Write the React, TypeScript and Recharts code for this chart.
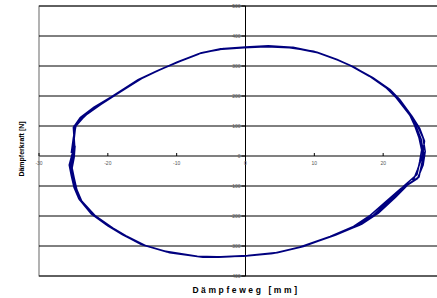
import React from 'react';
import { LineChart, Line, XAxis, YAxis, ReferenceLine, ReferenceArea, ReferenceDot } from 'recharts';

// Dämpferkraft over Dämpferweg, several recorded cycles
const cycle1 = [
  [-25.0, 20], [-24.9, 100], [-23.5, 133], [-21.5, 167], [-19.2, 200], [-15.3, 257], [-12.5, 287],
  [-9.9, 313], [-6.5, 343], [-3.6, 357], [0, 363], [3.3, 367], [6.7, 362], [10.2, 347], [13.1, 323],
  [15.4, 300], [18.3, 263], [20.8, 223], [22.2, 190], [24.1, 133], [24.8, 97], [25.5, 57], [25.9, 5],
  [25.6, -27], [25.2, -70], [23.7, -93], [21.8, -137], [19.3, -190], [16.9, -227], [13.1, -263],
  [8.1, -303], [4.4, -323], [0, -333], [-3.9, -337], [-6.5, -336], [-11.3, -320], [-14.8, -297],
  [-17.7, -263], [-19.6, -237], [-22.1, -197], [-24.0, -147], [-24.7, -110], [-25.1, -70],
  [-25.4, -37], [-25.1, -3], [-24.9, 30],
];
const cycle2 = [
  [-25.3, 10], [-25.0, 60], [-24.6, 105], [-23.0, 140], [-21.0, 172], [-18.8, 205], [-15.0, 260],
  [-12.2, 290], [-9.5, 316], [-6.2, 345], [-3.2, 358], [0.2, 362], [3.6, 365], [7.0, 360], [10.5, 344],
  [13.4, 320], [15.8, 296], [18.6, 258], [21.0, 220], [22.5, 185], [23.8, 140], [24.6, 100], [25.2, 62],
  [25.6, 20], [25.3, -20], [24.9, -62], [23.0, -100], [21.0, -145], [18.6, -197], [16.2, -232],
  [12.6, -266], [7.8, -305], [4.0, -325], [-0.3, -334], [-4.2, -336], [-7.0, -334], [-11.6, -318],
  [-15.2, -294], [-18.0, -260], [-20.0, -233], [-22.4, -193], [-24.2, -143], [-24.9, -105],
  [-25.3, -65], [-25.6, -30], [-25.2, 5],
];
const cycle3 = [
  [-24.8, 25], [-25.0, 95], [-24.0, 128], [-22.0, 163], [-19.5, 197], [-15.6, 254], [-12.8, 284],
  [-10.2, 310], [-6.8, 341], [-3.9, 355], [-0.2, 361], [3.0, 364], [6.4, 361], [9.9, 349], [12.8, 326],
  [15.1, 303], [18.0, 266], [20.5, 226], [21.9, 194], [23.8, 138], [25.0, 100], [25.8, 60], [26.1, 15],
  [25.8, -30], [25.0, -75], [23.3, -100], [21.3, -142], [18.9, -195], [16.6, -230], [12.9, -264],
  [8.4, -302], [4.6, -322], [0.3, -332], [-3.6, -336], [-6.2, -337], [-11.0, -322], [-14.5, -299],
  [-17.4, -266], [-19.3, -240], [-21.8, -200], [-23.8, -150], [-24.5, -113], [-24.9, -73],
  [-25.2, -40], [-24.9, -5], [-24.8, 25],
];
const cycle4 = [
  [-25.1, 15], [-24.7, 98], [-23.3, 135], [-21.3, 169], [-19.0, 202], [-15.1, 258], [-12.3, 289],
  [-9.7, 314], [-6.4, 344], [-3.4, 356], [0.1, 362], [3.5, 366], [6.9, 362], [10.4, 346], [13.3, 322],
  [15.6, 298], [18.5, 261], [21.0, 221], [22.4, 188], [24.2, 132], [25.3, 92], [26.0, 50], [25.7, 0],
  [25.0, -45], [24.3, -85], [22.6, -108], [20.4, -152], [18.0, -200], [15.7, -235], [12.3, -268],
  [7.6, -306], [4.2, -324], [-0.1, -333], [-4.0, -337], [-6.6, -336], [-11.4, -320], [-15.0, -296],
  [-17.9, -262], [-19.8, -235], [-22.2, -195], [-24.1, -146], [-24.8, -108], [-25.2, -68],
  [-25.5, -35], [-25.2, 0], [-25.1, 15],
];

const xTicks = [-30, -20, -10, 0, 10, 20];
const yTicks = [-400, -300, -200, -100, 0, 100, 200, 300, 400, 500];

const data = [...cycle1, ...cycle2, ...cycle3, ...cycle4].map(([x, y]) => ({ x, y }));

const font = '"Liberation Sans", Arial, sans-serif';

export default function App() {
  return (
    <div style={{ position: 'absolute', left: 0, top: 0, width: 460, height: 298, fontFamily: font }}>
      <LineChart width={460} height={298} data={data} margin={{ top: 6, right: 8, left: 39, bottom: 22 }}>
        <XAxis dataKey="x" type="number" domain={[-30, 30]} ticks={xTicks} hide allowDataOverflow />
        <YAxis dataKey="y" type="number" domain={[-400, 500]} ticks={yTicks} hide allowDataOverflow />
        {yTicks.map((v) => (
          <ReferenceLine key={'g' + v} y={v} stroke="#000" strokeWidth={1} />
        ))}
        <ReferenceArea x1={-30} x2={30} y1={-400} y2={500} fill="none" stroke="#808080" strokeWidth={1.2} />
        <ReferenceLine y={0} stroke="#808080" strokeWidth={1.5} />
        <ReferenceLine x={0} stroke="#000" strokeWidth={1} />
        <Line
          dataKey="y"
          type="linear"
          stroke="#00007f"
          strokeWidth={1.6}
          dot={false}
          isAnimationActive={false}
        />
        {yTicks.map((v) => (
          <ReferenceDot
            key={'yl' + v}
            x={0}
            y={v}
            r={0}
            ifOverflow="visible"
            shape={(p: any) => (
              <g>
                <line x1={p.cx - 4} y1={p.cy} x2={p.cx} y2={p.cy} stroke="#000" />
                <text x={p.cx - 5} y={p.cy + 1.8} textAnchor="end" fontSize={5} fill="#555" fontFamily={font}>
                  {v}
                </text>
              </g>
            )}
          />
        ))}
        {xTicks.map((v) => (
          <ReferenceDot
            key={'xl' + v}
            x={v}
            y={0}
            r={0}
            ifOverflow="visible"
            shape={(p: any) => (
              <g>
                <line x1={p.cx} y1={p.cy - 3} x2={p.cx} y2={p.cy} stroke="#000" />
                <text x={p.cx} y={p.cy + 9} textAnchor="middle" fontSize={5} fill="#555" fontFamily={font}>
                  {v}
                </text>
              </g>
            )}
          />
        ))}
      </LineChart>
      <div
        style={{
          position: 'absolute', left: 21, top: 149, transform: 'translate(-50%, -50%) rotate(-90deg)',
          fontSize: 7, fontWeight: 'bold', whiteSpace: 'nowrap',
        }}
      >
        Dämpferkraft [N]
      </div>
      <div
        style={{
          position: 'absolute', left: 246, top: 290, transform: 'translate(-50%, -50%)',
          fontSize: 8.5, fontWeight: 'bold', letterSpacing: 2.6, whiteSpace: 'nowrap',
        }}
      >
        Dämpfeweg [mm]
      </div>
    </div>
  );
}
